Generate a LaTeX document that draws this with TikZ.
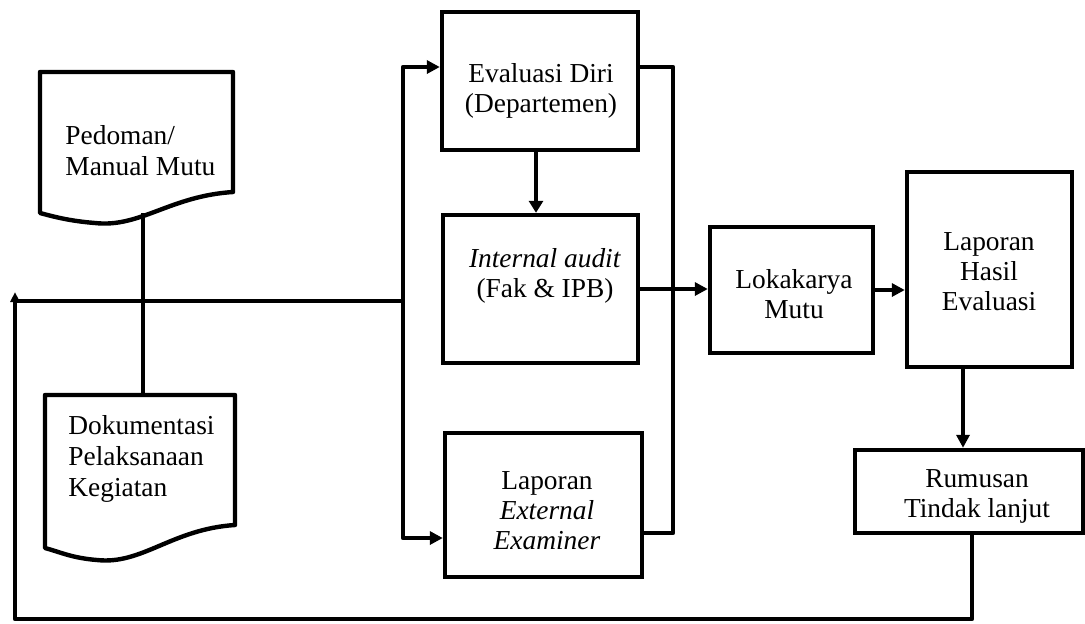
\documentclass[tikz,border=0pt]{standalone}
\usepackage{fontspec}
\setmainfont{Liberation Serif}
\usetikzlibrary{arrows.meta}
\begin{document}
\begin{tikzpicture}[x=0.5pt,y=-0.5pt,
  box/.style={draw, line width=2.2pt, rectangle, inner sep=0pt},
  txt/.style={inner sep=0pt, align=center, font=\fontsize{13.7}{15}\selectfont},
  ltxt/.style={inner sep=0pt, align=left, anchor=west, font=\fontsize{13.7}{15.5}\selectfont},
  conn/.style={line width=2.2pt},
  arr/.style={conn, -{Triangle[length=6.5pt,width=6.5pt]}},
  smallarr/.style={conn, -{Triangle[length=5pt,width=4.5pt]}}]
\useasboundingbox (0,0) rectangle (1085,623);

% document shapes
\node[inner sep=0pt, minimum width=96.5pt, minimum height=60pt] (ped) at (136.5,132) {};
\draw[line width=2.2pt, line join=round] (40,72) -- (233,72) -- (233,192)
  .. controls (170,196) and (140,228) .. (95,223)
  .. controls (70,221) and (55,217) .. (40,213) -- cycle;
\coordinate (pedB) at (143,213);
\node[ltxt] (pedT) at (65,151) {Pedoman/\\Manual Mutu};

\node[inner sep=0pt, minimum width=95pt, minimum height=65pt] (dok) at (140,460) {};
\draw[line width=2.2pt, line join=round] (45,395) -- (235,395) -- (235,525)
  .. controls (172,529) and (142,565) .. (97,560)
  .. controls (72,558) and (60,552) .. (45,548) -- cycle;
\node[ltxt] (dokT) at (68,459) {Dokumentasi\\Pelaksanaan\\Kegiatan};

% boxes
\node[box, minimum width=98pt, minimum height=69pt] (eval) at (540,81) {};
\node[txt] (evalT) at (541,91) {Evaluasi Diri\\(Departemen)};
\node[box, minimum width=97.5pt, minimum height=74pt] (inter) at (540.5,289) {};
\node[txt] (interT) at (545,276) {\textit{Internal audit}\\(Fak \& IPB)};
\node[box, minimum width=98.5pt, minimum height=72pt] (ext) at (543.5,505) {};
\node[txt] (extT) at (547,511) {Laporan\\\textit{External}\\\textit{Examiner}};
\node[box, minimum width=81.5pt, minimum height=63pt] (loka) at (791.5,290) {};
\node[txt] (lokaT) at (794,294) {Lokakarya\\Mutu};
\node[box, minimum width=82.5pt, minimum height=97.5pt] (hasil) at (989.5,269.5) {};
\node[txt] (hasilT) at (989,272) {Laporan\\Hasil\\Evaluasi};
\node[box, minimum width=114pt, minimum height=41.5pt] (rum) at (969,491.5) {};
\node[txt] (rumT) at (977,496) {Rumusan\\Tindak lanjut};

% coordinates for connectors
\coordinate (busT) at (403,67);
\coordinate (busM) at (403,301);
\coordinate (busB) at (403,538);
\coordinate (rbT) at (673,67);
\coordinate (rbB) at (673,533);
\coordinate (fbL) at (15,301);
\coordinate (fbTip) at (15,292);
\coordinate (fbR) at (972,619);
\coordinate (dnX) at (963,0);
\coordinate (edX) at (536,0);

% connectors
\draw[conn] (pedB) -- (pedB |- dok.north);
\draw[arr, line join=round] (busM) -- (busT) -- (eval.west |- busT);
\draw[arr, line join=round] (busM) -- (busB) -- (ext.west |- busB);
\draw[conn] (fbL) -- (busM);
\draw[conn, line join=round] (eval.east |- rbT) -- (rbT) -- (rbB) -- (ext.east |- rbB);
\draw[conn, line width=1.6pt, -{Triangle[length=6pt,width=7pt]}] (edX |- eval.south) -- (edX |- inter.north);
\draw[arr] (inter.east) -- (inter.east -| loka.west);
\draw[arr] (loka.east) -- (loka.east -| hasil.west);
\draw[arr] (dnX |- hasil.south) -- (dnX |- rum.north);
\draw[smallarr, line join=round] (rum.south -| fbR) -- (fbR) -- (fbR -| fbL) -- (fbTip);
\end{tikzpicture}
\end{document}
